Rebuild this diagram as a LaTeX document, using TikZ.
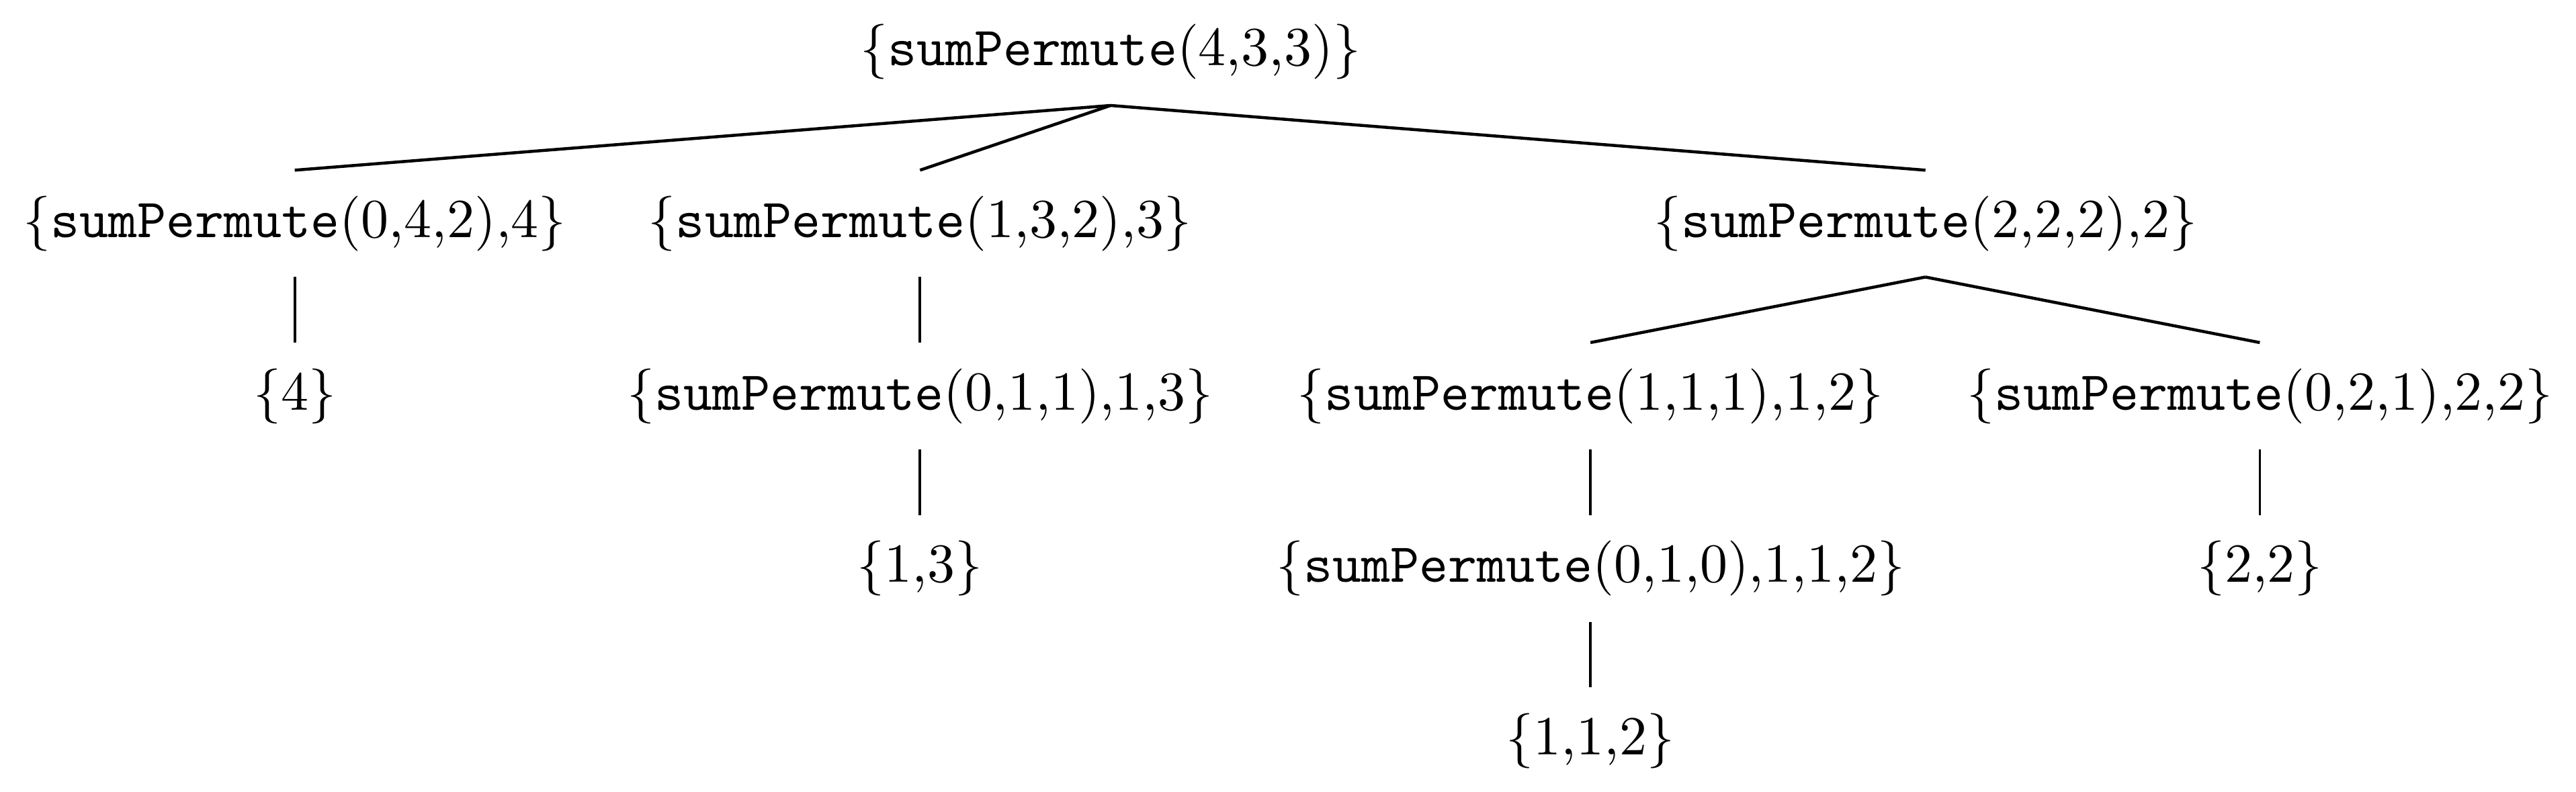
\documentclass[tikz,border=0pt]{standalone}
\usepackage{tikz}
\usetikzlibrary{positioning}
\begin{document}
\begin{tikzpicture}[x=1pt, y=1pt,
    call/.style={inner sep=4.5pt},
    branch/.style={line width=0.55pt},
    stem/.style={line width=0.45pt}]
        \useasboundingbox (0,0) rectangle (467.6,-143.7);

        % Корень
        \node[call] (root) at (201.6,-9.45) {\{\texttt{sumPermute}(4,3,3)\}};

        % Первый уровень
        \node[call] (p042) at (53.5,-40.6) {\{\texttt{sumPermute}(0,4,2),4\}};
        \node[call] (p132) at (167,-40.6) {\{\texttt{sumPermute}(1,3,2),3\}};
        \node[call] (p222) at (349.5,-40.6) {\{\texttt{sumPermute}(2,2,2),2\}};

        % Второй уровень
        \node[call] (leaf4) at (53.5,-71.9) {\{4\}};
        \node[call] (p011) at (167,-71.9) {\{\texttt{sumPermute}(0,1,1),1,3\}};
        \node[call] (p111) at (288.7,-71.9) {\{\texttt{sumPermute}(1,1,1),1,2\}};
        \node[call] (p021) at (410.2,-71.9) {\{\texttt{sumPermute}(0,2,1),2,2\}};

        % Третий и четвёртый уровни
        \node[call] (leaf13) at (167,-103.2) {\{1,3\}};
        \node[call] (p010) at (288.7,-103.2) {\{\texttt{sumPermute}(0,1,0),1,1,2\}};
        \node[call] (leaf22) at (410.2,-103.2) {\{2,2\}};
        \node[call] (leaf112) at (288.7,-134.5) {\{1,1,2\}};

        % Рёбра
        \foreach \a/\b in {root/p042, root/p132, root/p222, p222/p111, p222/p021}
            \draw[branch] (\a.south) -- (\b.north);
        \foreach \a/\b in {p042/leaf4, p132/p011, p011/leaf13, p111/p010, p010/leaf112, p021/leaf22}
            \draw[stem] (\a.south) -- (\b.north);
    \end{tikzpicture}
\end{document}
